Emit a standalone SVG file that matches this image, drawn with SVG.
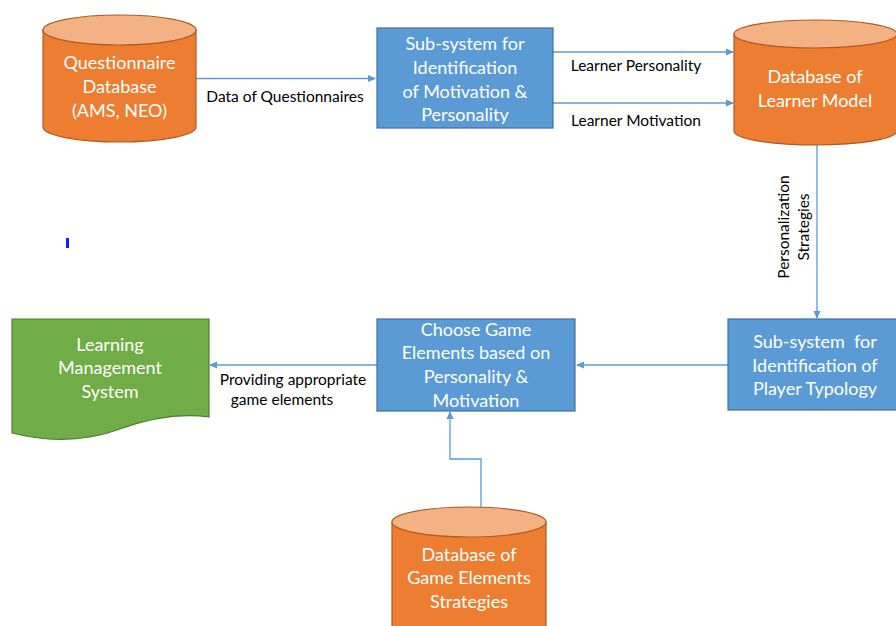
<svg xmlns="http://www.w3.org/2000/svg" width="896" height="626" viewBox="0 0 896 626">
<style>
.cyl{fill:#ED7D31;stroke:#AE5A21;stroke-width:1.2}
.cyltop{fill:#F4B183;stroke:#AE5A21;stroke-width:1.2}
.box{fill:#5B9BD5;stroke:#41719C;stroke-width:1.2}
.doc{fill:#70AD47;stroke:#507E32;stroke-width:1.2}
.nt{font-family:Lato,"Open Sans",sans-serif;font-size:18px;fill:#fff;text-anchor:middle}
.lt{font-family:Lato,"Open Sans",sans-serif;font-size:15.5px;fill:#000;text-anchor:middle}
.con{fill:none;stroke:#5B9BD5;stroke-width:1.3}
</style>
<defs>
<marker id="ah" markerWidth="8" markerHeight="8" refX="7" refY="4" orient="auto" markerUnits="userSpaceOnUse">
<path d="M0,0.5 L8,4 L0,7.5 Z" fill="#5B9BD5"/>
</marker>
</defs>
<rect width="896" height="626" fill="#fff"/>
<rect x="66" y="238" width="3" height="10" fill="#1a1aff"/>
<g id="connectors">
<line class="con" x1="196" y1="78.5" x2="375" y2="78.5" marker-end="url(#ah)"/>
<line class="con" x1="553" y1="52" x2="733" y2="52" marker-end="url(#ah)"/>
<line class="con" x1="553" y1="103" x2="733" y2="103" marker-end="url(#ah)"/>
<line class="con" x1="817" y1="145" x2="817" y2="318" marker-end="url(#ah)"/>
<line class="con" x1="728" y1="365" x2="577" y2="365" marker-end="url(#ah)"/>
<line class="con" x1="377" y1="365" x2="210" y2="365" marker-end="url(#ah)"/>
<polyline class="con" points="481,507 481,459 450,459 450,412" marker-end="url(#ah)"/>
<text class="lt" x="285" y="102">Data of Questionnaires</text>
<text class="lt" x="636" y="71">Learner Personality</text>
<text class="lt" x="636" y="126">Learner Motivation</text>
<text class="lt" transform="translate(789,227) rotate(-90)">Personalization</text>
<text class="lt" transform="translate(809,227) rotate(-90)">Strategies</text>
<text class="lt" x="293" y="385">Providing appropriate</text>
<text class="lt" x="282" y="405">game elements</text>
</g>
<g id="questionnaire-db">
<path class="cyl" d="M43,30 V127 A76.5,15 0 0 0 196,127 V30 Z"/>
<ellipse class="cyltop" cx="119.5" cy="30" rx="76.5" ry="15"/>
<text class="nt" x="119.5" y="69">Questionnaire</text>
<text class="nt" x="119.5" y="93">Database</text>
<text class="nt" x="119.5" y="117">(AMS, NEO)</text>
</g>
<g id="subsystem-motivation">
<rect class="box" x="377" y="28" width="176" height="100"/>
<text class="nt" x="465" y="50">Sub-system for</text>
<text class="nt" x="465" y="74">Identification</text>
<text class="nt" x="465" y="98">of Motivation &amp;</text>
<text class="nt" x="465" y="121">Personality</text>
</g>
<g id="learner-model-db">
<path class="cyl" d="M734,34 V131 A81.5,14 0 0 0 897,131 V34 Z"/>
<ellipse class="cyltop" cx="815.5" cy="34" rx="81.5" ry="14"/>
<text class="nt" x="815" y="83">Database of</text>
<text class="nt" x="815" y="107">Learner Model</text>
</g>
<g id="player-typology">
<rect class="box" x="728" y="319" width="170" height="91"/>
<text class="nt" x="815" y="348">Sub-system&#160; for</text>
<text class="nt" x="815" y="372">Identification of</text>
<text class="nt" x="815" y="395">Player Typology</text>
</g>
<g id="choose-game-elements">
<rect class="box" x="377" y="319" width="198" height="92"/>
<text class="nt" x="476" y="336">Choose Game</text>
<text class="nt" x="476" y="359">Elements based on</text>
<text class="nt" x="476" y="383">Personality &amp;</text>
<text class="nt" x="476" y="407">Motivation</text>
</g>
<g id="lms">
<path class="doc" d="M12,319 H209 V417 C180,413 150,418 120,429 C90,440 55,444 12,433 Z"/>
<text class="nt" x="110" y="351">Learning</text>
<text class="nt" x="110" y="374">Management</text>
<text class="nt" x="110" y="398">System</text>
</g>
<g id="game-elements-db">
<path class="cyl" d="M392,522 V640 H546 V522 Z"/>
<ellipse class="cyltop" cx="469" cy="522" rx="77" ry="15"/>
<text class="nt" x="469" y="561">Database of</text>
<text class="nt" x="469" y="584">Game Elements</text>
<text class="nt" x="469" y="608">Strategies</text>
</g>
</svg>
